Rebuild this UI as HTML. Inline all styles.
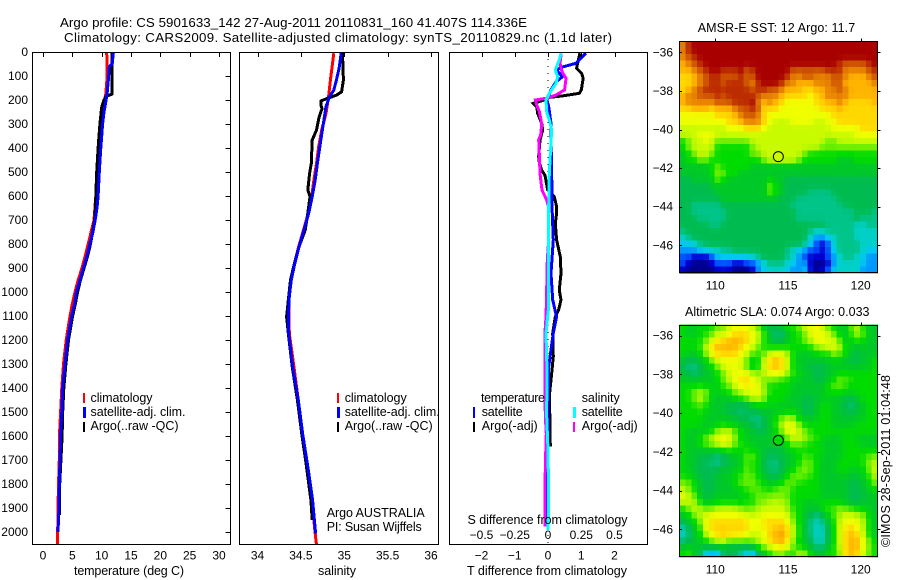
<!DOCTYPE html>
<html lang="en">
<head>
<meta charset="utf-8">
<title>Argo profile chart</title>
<style>
html,body{margin:0;padding:0;background:#fff;}
svg{display:block;}
text{font-family:"Liberation Sans",sans-serif;font-size:12px;fill:#000;}
text.big{font-size:13.3px;}
text.lab{font-size:12.5px;}
.ax{fill:none;stroke:#000;stroke-width:1;shape-rendering:crispEdges;}
.ln{fill:none;stroke-width:3;stroke-linejoin:miter;shape-rendering:crispEdges;}
</style>
</head>
<body>
<svg id="chart" xmlns="http://www.w3.org/2000/svg" width="900" height="580" viewBox="0 0 900 580">
  <rect x="0" y="0" width="900" height="580" fill="#fff"/>
  <text class="big" x="60" y="27" textLength="467" lengthAdjust="spacing">Argo profile: CS 5901633_142 27-Aug-2011 20110831_160 41.407S 114.336E</text>
  <text class="big" x="64" y="42" textLength="548" lengthAdjust="spacing">Climatology: CARS2009. Satellite-adjusted climatology: synTS_20110829.nc (1.1d later)</text>

  <g id="map-layer"></g>
  <g id="line-layer"></g>
  <g id="axis-layer"></g>

  <text class="lab" x="74" y="575" textLength="110" lengthAdjust="spacing">temperature (deg C)</text>
  <text class="lab" x="318" y="575" textLength="38" lengthAdjust="spacing">salinity</text>
  <text class="lab" x="467" y="575" textLength="160" lengthAdjust="spacing">T difference from climatology</text>
  <text class="lab" x="467.5" y="524" textLength="160" lengthAdjust="spacing">S difference from climatology</text>

  <g>
    <rect x="83" y="393" width="2" height="10" fill="#f00"/>
    <rect x="83" y="407" width="3" height="11" fill="#00f"/>
    <rect x="83" y="422" width="2" height="10" fill="#000"/>
    <text class="lab" x="90.5" y="402" textLength="62" lengthAdjust="spacing">climatology</text>
    <text class="lab" x="90.5" y="416" textLength="95" lengthAdjust="spacing">satellite-adj. clim.</text>
    <text class="lab" x="90.5" y="430" textLength="88" lengthAdjust="spacing">Argo(..raw -QC)</text>
  </g>
  <g>
    <rect x="337" y="393" width="2" height="10" fill="#f00"/>
    <rect x="337" y="407" width="3" height="11" fill="#00f"/>
    <rect x="337" y="422" width="2" height="10" fill="#000"/>
    <text class="lab" x="344.7" y="402" textLength="62" lengthAdjust="spacing">climatology</text>
    <text class="lab" x="344.7" y="416" textLength="95" lengthAdjust="spacing">satellite-adj. clim.</text>
    <text class="lab" x="344.7" y="430" textLength="88" lengthAdjust="spacing">Argo(..raw -QC)</text>
  </g>
  <g>
    <rect x="473" y="407" width="2" height="11" fill="#00f"/>
    <rect x="473" y="422" width="2" height="10" fill="#000"/>
    <rect x="573" y="407" width="3" height="11" fill="#0ff"/>
    <rect x="573" y="422" width="2" height="10" fill="#f0f"/>
    <text class="lab" x="481" y="402" textLength="64" lengthAdjust="spacing">temperature</text>
    <text class="lab" x="481.7" y="416" textLength="41" lengthAdjust="spacing">satellite</text>
    <text class="lab" x="481.7" y="430" textLength="56" lengthAdjust="spacing">Argo(-adj)</text>
    <text class="lab" x="581.7" y="402" textLength="38" lengthAdjust="spacing">salinity</text>
    <text class="lab" x="581.7" y="416" textLength="41" lengthAdjust="spacing">satellite</text>
    <text class="lab" x="581.7" y="430" textLength="56" lengthAdjust="spacing">Argo(-adj)</text>
  </g>
  <text class="lab" x="326.7" y="517" textLength="98" lengthAdjust="spacing">Argo AUSTRALIA</text>
  <text class="lab" x="326.7" y="531" textLength="95" lengthAdjust="spacing">PI: Susan Wijffels</text>

  <text class="lab" x="697.7" y="32" textLength="157.5" lengthAdjust="spacing">AMSR-E SST: 12 Argo: 11.7</text>
  <text class="lab" x="685" y="316" textLength="184.5" lengthAdjust="spacing">Altimetric SLA: 0.074 Argo: 0.033</text>
  <text class="lab" transform="translate(890,547) rotate(-90)" x="0" y="0" textLength="172" lengthAdjust="spacing">©IMOS 28-Sep-2011 01:04:48</text>
</svg>

<script>
// ---- Profile data: temperature panel (deg C) ----
const tempClimDepth = [0,100,175,200,300,400,500,600,650,700,750,800,850,900,950,1000,1050,1100,1200,1300,1400,1500,1600,1700,1800,1900,2000,2054];
const tempClimValue = [10.85,10.95,10.7,10.5,10.0,9.65,9.3,9.0,8.85,8.7,8.2,7.7,7.2,6.65,6.0,5.45,5.0,4.6,3.95,3.5,3.2,3.0,2.8,2.78,2.65,2.55,2.5,2.5];
const tempArgoDepth = [0,50,175,185,200,230,300,400,500,600,650,700,750,800,850,900,950,1000,1050,1100,1200,1300,1400,1500,1600,1700,1800,1900,1930];
const tempArgoValue = [11.8,11.8,11.8,10.75,10.4,10.0,9.7,9.4,9.15,9.0,8.95,8.8,8.45,8.1,7.6,7.0,6.4,5.9,5.5,5.05,4.35,3.9,3.55,3.35,3.25,3.05,2.85,2.78,2.78];
const tempSatDepth = [0,50,60,100,170,200,250,300,400,500,600,650,700,750,800,850,900,950,1000,1050,1100,1200,1300,1400,1500,1600,1700,1800,1900,2000];
const tempSatValue = [12.0,11.8,11.3,11.2,10.95,10.75,10.4,10.15,9.85,9.6,9.4,9.2,8.9,8.5,8.0,7.5,6.9,6.3,5.7,5.4,4.9,4.2,3.75,3.35,3.2,3.0,2.9,2.78,2.73,2.55];

// ---- Profile data: salinity panel ----
const salClimDepth = [5,117,186,256,325,394,464,533,603,672,742,811,881,950,1019,1172,1311,1450,1589,1728,1867,2006,2054];
const salClimValue = [34.88,34.84,34.82,34.79,34.74,34.705,34.68,34.65,34.625,34.585,34.53,34.475,34.425,34.38,34.36,34.367,34.42,34.47,34.52,34.575,34.625,34.665,34.68];
const salArgoDepth = [5,117,166,180,194,204,222,236,271,325,367,464,506,575,603,672,742,811,881,950,1019,1103,1172,1311,1450,1589,1728,1867,1950];
const salArgoValue = [34.98,34.99,34.97,34.91,34.8,34.73,34.73,34.745,34.71,34.68,34.63,34.62,34.6,34.58,34.605,34.58,34.55,34.48,34.425,34.38,34.36,34.335,34.355,34.4,34.46,34.51,34.565,34.615,34.63];
const salSatDepth = [5,70,117,159,186,228,297,367,464,533,603,672,742,811,881,950,1019,1103,1172,1311,1450,1589,1728,1867,2006];
const salSatValue = [34.965,34.94,34.91,34.88,34.83,34.79,34.76,34.73,34.69,34.665,34.63,34.59,34.535,34.48,34.43,34.39,34.367,34.355,34.36,34.405,34.47,34.52,34.58,34.635,34.67];

// ---- Profile data: difference panel ----
const diffTArgoDepth = [5,47,68,89,110,158,172,183,189,200,214,228,256,297,325,367,436,464,492,514,575,603,644,672,714,783,853,922,992,1033,1075,1103,1172,1269,1325,1436,1544,1644];
const diffTArgoValue = [0.96,0.89,0.86,1.01,1.06,1.0,0.94,0.44,0.04,-0.11,-0.44,-0.34,-0.31,-0.19,-0.16,-0.24,-0.28,-0.26,-0.19,-0.09,-0.01,0.19,0.26,0.26,0.22,0.26,0.37,0.39,0.34,0.39,0.32,0.22,0.14,0.16,0.12,0.04,0.06,0.07];
const diffTSatDepth = [5,26,47,64,75,89,103,124,158,200,228,297,367,506,644,783,922,1033,1075,1103,1130,1172,1241,1311,1450,1589,1977];
const diffTSatValue = [1.14,0.99,0.84,0.39,0.26,0.34,0.44,0.24,0.09,-0.03,0.02,0.09,0.09,0.11,0.12,0.16,0.09,0.14,0.21,0.26,0.22,0.16,0.09,0.02,0,0,-0.01];
const diffSArgoDepth = [5,47,82,110,158,179,193,200,221,249,297,339,367,436,506,575,617,644,783,867,1061,1103,1172,1311,1519,1589,1728,1977];
const diffSArgoValue = [0.1,0.09,0.105,0.135,0.125,0.06,-0.015,-0.095,-0.085,-0.065,-0.048,-0.053,-0.07,-0.065,-0.06,-0.045,-0.01,0.003,0.005,-0.005,-0.013,-0.015,-0.023,-0.023,-0.02,-0.013,-0.02,-0.023];
const diffSSatDepth = [5,33,75,103,131,172,200,249,283,325,367,506,644,783,922,1061,1103,1172,1311,1519,1658,1867,1991];
const diffSSatValue = [0.098,0.085,0.055,0.073,0.06,0.01,-0.015,-0.01,0.01,0.028,0.023,0.01,0.005,0.005,0.005,0.005,-0.003,-0.015,-0.008,-0.01,0,0.005,0];

// ---- Tick labels ----
const depthTicks = [0,100,200,300,400,500,600,700,800,900,1000,1100,1200,1300,1400,1500,1600,1700,1800,1900,2000];
const tempTicks = [0,5,10,15,20,25,30];
const salTicks = [34,34.5,35,35.5,36];
const diffTTicks = [-2,-1,0,1,2];
const diffSTicks = [-0.5,-0.25,0,0.25,0.5];
const lonTicks = [110,115,120];
const latTicks = [-36,-38,-40,-42,-44,-46];

// ---- Float position ----
const argoLon = 114.336;
const argoLat = -41.407;
const sstMarkerLevel = 11;
const slaMarkerLevel = 9;

// ---- Map grid values (colour-scale level 0..18), north to south, west to east ----
const sstLevels = [
[15,17,18,18,18,18,18,18,18,18,18,18,18,18,18,18,18,18,18,18,18,18,18,18,18,18,18,18,18,18,18,18,18,18],
[15,17,18,18,18,18,18,18,18,18,18,18,18,18,18,18,18,18,18,18,18,18,18,18,18,18,18,18,18,18,18,18,18,18],
[15,16,17,18,18,18,18,18,18,18,18,18,18,18,18,18,18,18,18,18,18,18,18,18,18,18,18,18,18,18,18,18,18,18],
[14,15,16,17,18,18,18,18,18,18,18,18,18,18,18,18,18,18,18,18,18,18,18,18,18,18,18,17,16,16,16,16,17,18],
[14,14,15,16,17,18,18,17,17,17,18,16,17,18,18,18,18,18,18,16,16,16,16,16,16,17,17,17,15,15,15,15,16,17],
[13,13,14,15,16,17,17,16,16,16,17,16,16,18,18,18,18,18,17,15,15,16,16,15,15,15,16,16,15,14,14,14,15,16],
[13,13,14,15,16,17,17,16,17,17,17,16,15,17,18,18,18,17,15,15,14,14,14,15,15,15,16,16,14,14,14,14,14,15],
[13,14,15,16,17,17,17,17,17,17,17,17,16,17,17,16,16,15,14,14,14,13,13,14,14,15,15,16,15,14,14,14,14,14],
[14,15,15,16,16,16,17,16,17,17,17,17,17,16,15,15,15,14,13,13,13,13,12,13,14,15,15,15,15,14,14,14,14,14],
[14,15,15,15,15,15,16,16,16,17,17,17,18,15,14,15,14,13,12,12,12,12,12,13,13,14,14,15,14,13,13,13,13,14],
[13,13,14,14,14,13,14,14,14,15,16,16,17,16,13,13,13,12,12,12,12,12,12,12,13,13,13,14,13,13,13,13,13,13],
[12,12,12,12,12,12,13,13,13,14,15,16,16,15,13,12,12,12,12,12,12,12,12,12,12,12,13,13,13,13,13,13,13,13],
[12,12,12,12,12,12,12,12,13,13,14,15,15,15,13,12,11,11,11,12,12,12,12,11,11,12,12,13,13,13,13,13,13,13],
[11,11,11,11,11,11,11,11,12,12,12,13,13,13,12,11,11,11,11,11,11,11,11,11,11,11,12,12,12,12,12,13,13,13],
[11,11,11,12,12,12,11,11,11,11,11,11,11,11,11,11,11,11,11,11,11,11,11,11,11,11,11,11,11,11,12,12,12,12],
[9,10,11,11,12,11,10,10,10,10,10,10,11,11,11,11,11,11,11,11,11,11,11,11,11,10,10,11,11,11,11,11,11,11],
[9,10,11,11,11,11,9,9,9,9,9,9,10,11,11,11,11,11,11,11,11,11,11,11,10,10,10,10,10,10,10,10,10,10],
[8,9,10,11,11,10,9,9,9,9,9,9,10,10,11,11,11,11,11,11,11,10,9,9,9,9,9,9,9,9,9,9,9,9],
[8,9,9,10,10,9,9,9,9,9,9,9,9,9,10,11,11,11,11,11,10,9,9,9,9,9,9,8,8,8,9,9,9,9],
[8,8,8,8,8,9,10,9,9,9,9,9,8,8,8,8,8,8,8,8,8,8,8,8,8,8,8,8,8,8,8,8,8,8],
[8,8,8,8,8,9,10,10,9,9,8,8,8,8,8,8,8,8,8,8,8,8,8,8,8,8,8,8,8,8,8,8,8,8],
[7,7,8,8,8,8,10,9,8,8,8,8,8,8,8,9,8,8,7,7,7,7,7,7,7,7,7,7,7,7,7,7,7,7],
[7,7,7,7,7,8,8,8,8,8,8,8,8,8,8,10,9,8,7,7,7,7,7,7,7,7,7,7,7,7,7,7,7,7],
[7,7,7,7,7,7,8,8,8,8,8,8,8,8,8,10,9,8,7,7,7,7,6,6,6,6,7,7,7,7,7,7,7,7],
[7,7,7,7,7,7,7,8,8,8,8,8,8,8,8,8,8,7,7,7,6,6,6,6,6,6,6,7,7,7,7,7,7,7],
[7,7,6,6,6,6,6,7,7,7,7,7,7,7,7,7,7,7,7,6,6,6,6,6,6,6,6,6,7,7,7,7,7,7],
[7,7,6,6,6,6,6,6,7,7,7,7,7,7,7,7,7,7,7,7,6,6,6,6,6,6,6,6,6,6,7,7,7,6],
[7,7,7,6,6,6,6,6,7,7,7,7,7,7,7,7,7,7,7,7,6,6,6,6,6,6,6,6,6,6,7,6,6,6],
[7,7,7,7,7,6,6,7,7,7,7,7,7,7,7,7,7,7,7,7,7,7,7,7,7,6,6,6,6,6,5,5,6,6],
[6,7,7,7,7,7,7,7,7,7,7,7,7,7,7,7,7,7,7,7,7,7,6,5,5,6,6,6,6,6,5,5,5,5],
[5,6,7,7,7,7,7,7,7,7,7,7,7,7,7,7,7,7,7,7,7,7,5,3,3,4,5,6,6,6,5,5,5,5],
[4,4,5,6,7,7,7,7,7,7,7,7,7,7,7,7,7,7,7,7,7,6,4,2,1,2,5,6,6,6,6,5,5,5],
[3,3,3,4,4,5,5,6,6,7,7,7,7,7,7,7,7,7,6,5,4,3,2,2,1,2,4,6,6,6,6,5,4,4],
[2,2,1,1,1,2,4,4,4,4,4,4,5,6,7,7,7,7,6,5,3,2,1,1,1,2,3,5,6,6,5,4,3,3],
[2,1,0,0,0,1,2,2,2,1,1,2,2,3,5,6,6,6,5,4,3,3,1,0,0,1,3,5,5,5,5,4,3,3],
[1,0,0,0,0,0,1,1,1,0,0,0,1,3,4,5,5,5,4,3,3,4,1,0,1,2,4,5,5,5,5,3,3,3]
];
const slaLevels = [
[9,8,8,9,9,9,10,10,11,12,12,12,11,10,8,7,7,8,9,9,10,11,12,12,11,10,9,8,8,10,11,9,8,8],
[9,8,8,9,9,10,11,11,12,13,13,13,12,11,10,8,6,6,8,9,9,10,11,13,12,11,10,9,8,9,11,10,8,8],
[9,9,9,9,10,11,13,13,14,14,14,13,12,11,9,8,7,7,8,9,9,10,11,12,12,12,11,10,8,9,9,9,8,8],
[9,9,9,9,11,13,14,14,14,14,13,12,11,10,9,9,9,9,9,9,9,9,9,10,11,11,12,11,9,8,8,8,8,8],
[9,8,8,9,10,12,13,13,13,13,12,11,10,9,10,11,12,12,11,9,8,8,8,9,9,9,10,10,9,8,7,8,8,8],
[8,7,7,8,9,10,11,12,12,12,12,10,8,9,11,13,14,13,11,9,8,8,8,8,8,8,9,8,8,7,7,8,8,9],
[7,6,6,7,8,9,10,11,12,12,11,10,8,9,11,13,14,13,11,9,8,8,7,7,7,8,8,8,8,8,8,8,8,9],
[8,7,6,7,8,8,9,10,11,12,12,12,11,10,11,12,12,12,11,9,9,8,8,7,7,8,8,9,9,9,9,9,9,9],
[8,8,8,8,8,8,9,10,11,12,13,13,12,11,10,10,10,9,9,9,8,8,8,7,7,8,9,10,10,9,9,9,9,9],
[9,9,9,9,9,8,9,9,10,11,12,13,12,12,10,9,9,9,9,8,8,8,8,8,8,9,10,10,9,9,9,9,9,9],
[9,9,10,11,10,9,8,9,9,10,11,11,12,12,11,9,9,9,9,8,8,8,8,8,8,9,9,9,9,8,9,9,9,9],
[9,9,10,11,10,8,8,8,8,9,9,10,11,11,10,9,9,9,8,8,8,7,7,8,8,8,8,8,7,7,8,9,9,9],
[9,9,9,10,9,8,8,8,7,7,7,7,8,9,9,8,9,8,8,8,8,7,7,8,9,9,8,8,7,6,7,8,9,9],
[9,9,9,9,9,8,8,8,7,7,6,7,7,7,8,8,8,8,9,9,8,7,7,8,9,9,8,8,7,7,8,8,9,9],
[9,9,9,9,8,8,8,8,8,8,7,7,6,6,7,8,9,10,11,10,9,8,8,8,9,9,8,8,8,8,8,8,9,9],
[9,9,9,9,8,8,9,9,9,8,8,8,7,6,7,8,9,11,12,12,10,9,9,9,9,9,8,8,8,8,9,9,9,9],
[9,8,8,8,8,9,10,11,11,10,9,8,8,7,7,8,9,10,12,12,11,10,9,9,9,9,9,9,9,9,9,9,9,9],
[9,8,8,9,10,11,12,12,12,10,9,8,8,8,8,8,8,8,10,11,11,11,10,9,9,8,8,8,9,9,8,8,8,8],
[9,8,8,9,10,10,11,12,11,10,9,9,8,8,8,8,8,8,9,10,10,9,9,9,8,8,8,8,9,9,9,8,8,8],
[9,8,8,8,8,8,8,9,9,9,9,9,9,8,8,7,7,8,8,9,9,9,9,9,9,8,8,8,9,9,9,9,9,9],
[9,8,8,7,7,7,6,6,8,8,8,10,10,9,7,7,7,7,8,8,9,10,9,9,8,8,8,8,9,9,9,9,10,10],
[9,8,8,7,7,6,6,7,7,8,8,10,9,9,7,6,6,7,8,8,9,10,10,9,8,8,8,9,9,9,9,9,10,11],
[9,8,8,7,7,7,7,8,8,8,9,10,9,9,7,7,6,7,8,9,10,10,10,9,8,8,8,9,9,8,8,9,10,11],
[9,9,8,7,7,7,8,8,8,9,9,10,10,9,8,7,7,8,9,10,10,10,9,9,8,8,8,8,8,8,8,8,9,11],
[10,10,9,8,7,7,8,8,8,9,10,10,10,9,9,8,8,9,10,10,9,9,9,9,8,8,8,8,8,7,7,8,9,10],
[11,10,9,8,7,7,8,8,8,8,9,9,10,10,9,9,10,10,10,9,9,9,9,9,8,8,8,8,8,7,7,8,8,9],
[12,11,10,8,7,8,8,8,8,8,8,9,9,10,10,10,10,10,10,9,9,9,9,9,8,8,8,8,8,7,7,7,8,8],
[11,11,11,9,8,8,9,9,9,9,9,9,9,10,10,11,11,11,10,9,9,8,8,8,9,9,9,9,8,7,7,8,8,8],
[9,10,11,11,10,10,11,11,11,11,10,10,10,11,11,11,11,11,11,9,9,8,8,8,9,9,10,10,10,10,9,9,8,8],
[8,9,10,11,11,12,12,12,12,12,12,11,11,11,12,12,12,12,11,10,9,8,7,6,7,9,9,11,11,11,11,10,9,8],
[7,8,9,10,12,13,13,13,13,13,13,13,12,12,13,13,13,13,12,10,9,8,6,5,6,8,9,11,12,12,12,11,9,8],
[5,7,8,9,12,13,13,13,13,13,13,13,12,12,12,13,13,14,13,11,9,8,6,5,5,7,9,11,13,13,12,11,9,8],
[5,6,8,9,11,12,13,14,13,13,13,12,11,11,12,13,14,15,13,11,9,8,6,5,5,7,9,11,13,14,13,11,9,8],
[6,7,8,8,9,10,11,11,10,10,10,10,10,11,12,13,14,14,13,10,9,8,7,5,5,7,9,11,13,14,14,12,10,9],
[8,8,8,8,8,8,8,8,7,7,7,7,8,9,10,11,12,13,12,10,9,8,8,6,6,8,9,11,13,14,14,12,10,9],
[9,10,8,7,3,3,3,7,7,7,6,3,3,7,8,9,10,10,9,9,11,11,9,8,8,9,9,10,13,14,13,11,10,9]
];

// ---- Colour scale lookup ----
const palette = [[0,0,140],[0,0,208],[0,80,255],[0,152,255],[0,200,240],[0,208,200],[0,196,136],[0,188,80],[0,200,40],[0,220,0],[112,240,0],[200,250,0],[240,255,0],[255,216,0],[255,180,0],[232,132,0],[208,88,0],[188,44,0],[168,0,0]];

const SVGNS = 'http://www.w3.org/2000/svg';
const mapLayer = document.getElementById('map-layer');
const lineLayer = document.getElementById('line-layer');
const axisLayer = document.getElementById('axis-layer');

// ---- Axis functions ----
const yDepth = d => 52 + d * 0.24;
const xTemp = v => 43 + v * 5.867;
const xSal = v => 257.5 + (v - 34) * 86.75;
const xDiffT = v => 548 + v * 33.25;
const xDiffS = v => 548 + v * 133;
const xLon = v => 715.3 + (v - 110) * 14.54;
const yLatSst = v => 52.3 + (-36 - v) * 19.3;
const yLatSla = v => 335.7 + (-36 - v) * 19.36;

function colorOf(level) {
  const l = Math.max(0, Math.min(palette.length - 1, level));
  const i = Math.min(palette.length - 2, Math.floor(l));
  const f = l - i;
  const c = [0, 1, 2].map(k => Math.round(palette[i][k] + (palette[i + 1][k] - palette[i][k]) * f));
  return 'rgb(' + c.join(',') + ')';
}

// Light neighbour blend of the level grid, to reproduce the source's smooth gradations
function blended(levels, centre) {
  return levels.map((row, r) => row.map((v, c) => {
    const up = (levels[r - 1] || row)[c];
    const dn = (levels[r + 1] || row)[c];
    const lf = c > 0 ? row[c - 1] : v;
    const rt = c < row.length - 1 ? row[c + 1] : v;
    return (v * centre + up + dn + lf + rt) / (centre + 4);
  }));
}

function make(tag, parent, attrs) {
  const el = document.createElementNS(SVGNS, tag);
  for (const k in attrs) el.setAttribute(k, attrs[k]);
  parent.appendChild(el);
  return el;
}

function drawLine(depths, values, xf, color, name) {
  const pts = depths.map((d, i) => xf(values[i]).toFixed(1) + ',' + yDepth(d).toFixed(1)).join(' ');
  const el = make('polyline', lineLayer, {points: pts, stroke: color, class: 'ln'});
  
  
}

// Temperature panel lines
drawLine(tempClimDepth, tempClimValue, xTemp, '#f00', 'temperature-climatology-line');
drawLine(tempArgoDepth, tempArgoValue, xTemp, '#000', 'temperature-argo-line');
drawLine(tempSatDepth, tempSatValue, xTemp, '#00f', 'temperature-satellite-line');
// Salinity panel lines
drawLine(salClimDepth, salClimValue, xSal, '#f00', 'salinity-climatology-line');
drawLine(salArgoDepth, salArgoValue, xSal, '#000', 'salinity-argo-line');
drawLine(salSatDepth, salSatValue, xSal, '#00f', 'salinity-satellite-line');
// Difference panel lines
const zeroLine = make('line', lineLayer, {x1: xDiffT(0), x2: xDiffT(0), y1: 52, y2: 545, stroke: '#000', 'stroke-width': 1, 'stroke-dasharray': '1 6', 'shape-rendering': 'crispEdges'});


drawLine(diffTArgoDepth, diffTArgoValue, xDiffT, '#000', 'difference-temperature-argo-line');
drawLine(diffTSatDepth, diffTSatValue, xDiffT, '#00f', 'difference-temperature-satellite-line');
drawLine(diffSArgoDepth, diffSArgoValue, xDiffS, '#f0f', 'difference-salinity-argo-line');
drawLine(diffSSatDepth, diffSSatValue, xDiffS, '#0ff', 'difference-salinity-satellite-line');

// ---- Heat maps ----
function drawMap(levels, yLat, name) {
  const g = make('g', mapLayer, {});
  
  
  levels.forEach((row, r) => {
    row.forEach((lv, c) => {
      const lon0 = 107.55 + c * 0.4;
      const lat0 = -35.43 - r / 3;
      const x0 = xLon(lon0), x1 = xLon(lon0 + 0.4);
      const y0 = yLat(lat0), y1 = yLat(lat0 - 1 / 3);
      const cell = make('rect', g, {x: x0.toFixed(2), y: y0.toFixed(2), width: (x1 - x0 + 0.5).toFixed(2), height: (y1 - y0 + 0.5).toFixed(2), fill: colorOf(lv), 'shape-rendering': 'crispEdges'});
      
      
    });
  });
}
drawMap(blended(sstLevels, 6), yLatSst, 'sst-heatmap');
drawMap(blended(slaLevels, 2), yLatSla, 'sla-heatmap');

// ---- Axes ----
function drawFrame(x, y, w, h, name) {
  const el = make('rect', axisLayer, {x: x, y: y, width: w, height: h, class: 'ax'});
  
  
}
function tick(x1, y1, x2, y2) {
  const el = make('line', axisLayer, {x1: x1, y1: y1, x2: x2, y2: y2, class: 'ax'});
  
  
}
function label(txt, x, y, anchor, name) {
  const el = make('text', axisLayer, {x: x, y: y, 'text-anchor': anchor});
  el.textContent = txt;
  
  
}
const fmt = v => String(v).replace('-', '\u2212');

drawFrame(32.5, 52.5, 198, 492, 'temperature-panel-frame');
drawFrame(239.5, 52.5, 199, 492, 'salinity-panel-frame');
drawFrame(449.5, 52.5, 198, 492, 'difference-panel-frame');
drawFrame(679.5, 41.5, 198, 231, 'sst-map-frame');
drawFrame(679.5, 325.5, 198, 231, 'sla-map-frame');

depthTicks.forEach(d => {
  const y = Math.round(yDepth(d)) + 0.5;
  tick(231, y, 225.5, y);
  label(d, 28, yDepth(d) + 4, 'end', 'depth-tick-label');
});
tempTicks.forEach(v => {
  const x = Math.round(xTemp(v)) + 0.5;
  tick(x, 52, x, 57);
  label(v, xTemp(v), 559.5, 'middle', 'temperature-tick-label');
});
salTicks.forEach(v => {
  const x = Math.round(xSal(v)) + 0.5;
  tick(x, 52, x, 57);
  label(v, xSal(v), 559.5, 'middle', 'salinity-tick-label');
});
diffTTicks.forEach(v => {
  const x = Math.round(xDiffT(v)) + 0.5;
  tick(x, 52, x, 57);
  label(fmt(v), xDiffT(v), 559.5, 'middle', 't-difference-tick-label');
});
diffSTicks.forEach(v => {
  label(fmt(v), xDiffS(v), 539, 'middle', 's-difference-tick-label');
});
[[yLatSst, 41.5, 289.5], [yLatSla, 325.5, 573.5]].forEach(m => {
  lonTicks.forEach(v => {
    const x = Math.round(xLon(v)) + 0.5;
    tick(x, m[1], x, m[1] - 3);
    label(v, xLon(v), m[2], 'middle', 'longitude-tick-label');
  });
  latTicks.forEach(v => {
    const y = Math.round(m[0](v)) + 0.5;
    tick(878, y, 880.5, y);
    tick(680, y, 682, y);
    label(fmt(v), 673, m[0](v) + 4, 'end', 'latitude-tick-label');
  });
});

// ---- Float position markers ----
function drawMarker(yLat, lv, name) {
  const el = make('circle', axisLayer, {cx: xLon(argoLon), cy: yLat(argoLat), r: 5, fill: colorOf(lv), stroke: '#000', 'stroke-width': 1});
  
  
}
drawMarker(yLatSst, sstMarkerLevel, 'sst-argo-position-marker');
drawMarker(yLatSla, slaMarkerLevel, 'sla-argo-position-marker');
</script>
</body>
</html>
